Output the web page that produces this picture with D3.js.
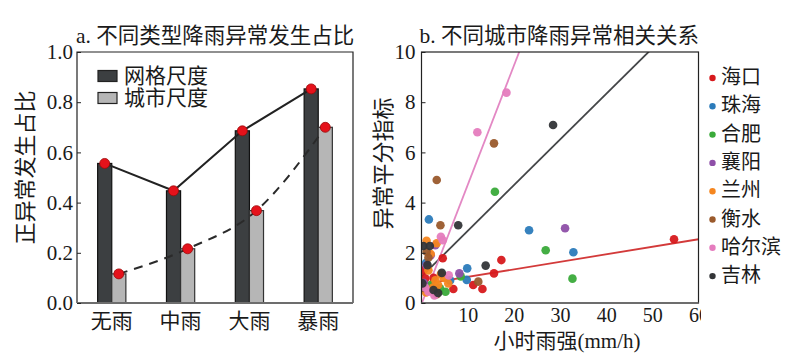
<!DOCTYPE html>
<html><head><meta charset="utf-8">
<script src="https://cdn.jsdelivr.net/npm/d3@7"></script>
<style>
html,body{margin:0;padding:0;background:#fff;}
svg{display:block;}
text{font-family:"Liberation Serif","Noto Sans CJK SC",serif;fill:#1a1a1a;}
</style></head>
<body><svg id="c" width="799" height="359"></svg>
<script>
// ---------- Panel a data ----------
const catsA = ['无雨','中雨','大雨','暴雨'];
const seriesA = ['网格尺度','城市尺度'];
const gridVals = [0.556, 0.447, 0.686, 0.853];
const cityVals = [0.116, 0.216, 0.368, 0.700];
const yTicksA = [0, 0.2, 0.4, 0.6, 0.8, 1.0];

// ---------- Panel b data ----------
const cities = ['海口','珠海','合肥','襄阳','兰州','衡水','哈尔滨','吉林'];
const cityColors = ['#d7191c','#2b7bba','#3aaa3a','#8e4fa8','#f5861f','#9a5a2c','#e57cbe','#333538'];
const haikou = [[54.7,2.54],[17.3,1.71],[15.7,1.18],[4.6,1.78],[11.2,0.72],[13.2,0.56],[6.9,0.56],[0.4,1.3],[0.8,0.98],[2.6,1.0]];
const zhuhai = [[23.3,2.9],[32.9,2.02],[1.6,3.33],[9.9,1.38],[9.8,0.92],[1.0,1.6],[6.2,0.9],[3.4,0.62]];
const hefei = [[15.9,4.43],[26.9,2.1],[32.7,0.97],[8.5,1.06],[4.0,0.59],[5.2,0.45],[2.0,0.72]];
const xiangyang = [[31.1,2.98],[8.2,1.18],[1.1,1.5],[3.0,2.3],[0.5,0.8],[2.0,1.9]];
const lanzhou = [[1.1,2.48],[3.3,2.38],[1.5,1.3],[4.2,1.15],[3.0,0.9],[5.8,0.78],[2.5,0.62],[1.0,0.42],[4.8,1.0],[2.0,1.95],[3.6,0.72]];
const hengshui = [[3.3,4.9],[15.7,6.36],[4.1,3.1],[1.1,2.04],[12.3,0.85],[3.3,0.35],[1.5,1.8],[0.5,0.6]];
const haerbin = [[18.4,8.38],[12.1,6.8],[4.2,2.64],[4.6,2.5],[5.9,1.1],[1.5,0.45],[2.8,0.3],[0.8,0.62]];
const jilin = [[28.5,7.09],[7.95,3.1],[13.9,1.49],[0.4,2.27],[1.8,2.27],[1.3,1.51],[4.4,1.2],[2.6,0.52],[0.2,0.78],[3.6,0.4]];
const cityPoints = [haikou, zhuhai, hefei, xiangyang, lanzhou, hengshui, haerbin, jilin];
const fitCities = ['海口','吉林','哈尔滨'];
const fitColors = ['#d33a3a','#444648','#e388c4'];
const fitIntercepts = [0.74, 1.05, -0.05];
const fitSlopes = [0.0300, 0.182, 0.475];
const xTicksB = [10, 20, 30, 40, 50, 60];
const yTicksB = [0, 2, 4, 6, 8, 10];

const svg = d3.select('#c');

// ================= Panel a =================
const A = {l:77, r:353, t:52, b:303};
const yA = d3.scaleLinear([0,1],[A.b, A.t]);
const x0 = d3.scaleBand(catsA,[A.l, A.r]).paddingInner(0.59).paddingOuter(0.3);
const x1 = d3.scaleBand(seriesA,[0, x0.bandwidth()]);
const gA = svg.append('g');

const barFill = ['#3c3f41','#b6b6b6'];
const barStroke = ['#111','#333'];
const valsA = [gridVals, cityVals];
seriesA.forEach((s,si)=>{
  gA.append('g').selectAll('rect').data(catsA).join('rect')
    .attr('x', c=>x0(c)+x1(s))
    .attr('y', (c,i)=>yA(valsA[si][i]))
    .attr('width', x1.bandwidth())
    .attr('height', (c,i)=>A.b - yA(valsA[si][i]))
    .attr('fill', barFill[si]).attr('stroke', barStroke[si]).attr('stroke-width',1.2);
});
const cx = (c,s)=>x0(c)+x1(s)+x1.bandwidth()/2;
gA.append('path')
  .attr('d', d3.line().x((v,i)=>cx(catsA[i],seriesA[0])).y(v=>yA(v))(gridVals))
  .attr('fill','none').attr('stroke','#222').attr('stroke-width',2);
gA.append('path')
  .attr('d', d3.line().curve(d3.curveMonotoneX).x((v,i)=>cx(catsA[i],seriesA[1])).y(v=>yA(v))(cityVals))
  .attr('fill','none').attr('stroke','#2a2a2a').attr('stroke-width',2).attr('stroke-dasharray','9,7');
seriesA.forEach((s,si)=>{
  gA.append('g').selectAll('circle').data(valsA[si]).join('circle')
    .attr('cx',(v,i)=>cx(catsA[i],s)).attr('cy',v=>yA(v)).attr('r',5)
    .attr('fill','#e5121b').attr('stroke','#9a0a0a').attr('stroke-width',0.8);
});
gA.append('path').attr('d',`M${A.l},${A.b}V${A.t}H${A.r}V${A.b}`).attr('fill','none').attr('stroke','#222').attr('stroke-width',1.2);
gA.append('line').attr('x1',A.l).attr('x2',A.r).attr('y1',A.b).attr('y2',A.b).attr('stroke','#6d6d6d').attr('stroke-width',2);
const axA = gA.append('g').attr('transform',`translate(${A.l},0)`)
  .call(d3.axisLeft(yA).tickValues(yTicksA).tickFormat(d3.format('.1f')).tickSizeInner(-4).tickSizeOuter(0).tickPadding(4));
axA.select('.domain').remove();
axA.selectAll('line').attr('stroke','#222');
axA.selectAll('text').attr('font-size',21).attr('fill','#1a1a1a');
const axAx = gA.append('g').attr('transform',`translate(0,${A.b})`)
  .call(d3.axisBottom(x0).tickSize(0).tickPadding(10));
axAx.select('.domain').remove();
axAx.selectAll('text').attr('font-size',21).attr('fill','#1a1a1a');
gA.append('text').attr('x',A.l-1).attr('y',36).attr('dominant-baseline','central')
  .attr('font-size',21.5).text('a. 不同类型降雨异常发生占比');
gA.append('text').attr('transform',`translate(25,${(A.t+A.b)/2-10}) rotate(-90)`)
  .attr('text-anchor','middle').attr('dominant-baseline','central').attr('font-size',22).text('正异常发生占比');
seriesA.forEach((s,i)=>{
  const y = 76 + i*22;
  gA.append('rect').attr('x',98).attr('y',y-5.5).attr('width',19).attr('height',11)
    .attr('fill',barFill[i]).attr('stroke','#222').attr('stroke-width',1.2);
  gA.append('text').attr('x',124).attr('y',y).attr('dominant-baseline','central').attr('font-size',21).text(s);
});

// ================= Panel b =================
const B = {l:421.5, r:698.5, t:52, b:303};
const xB = d3.scaleLinear([0,60],[B.l, B.r]);
const yB = d3.scaleLinear([0,10],[B.b, B.t]);
const gB = svg.append('g');
svg.append('defs').append('clipPath').attr('id','clipB').append('rect')
  .attr('x',B.l).attr('y',B.t).attr('width',B.r-B.l).attr('height',B.b-B.t);
svg.select('defs').append('clipPath').attr('id','clipLab').append('rect')
  .attr('x',0).attr('y',0).attr('width',701).attr('height',359);

const plot = gB.append('g').attr('clip-path','url(#clipB)');
fitCities.forEach((c,i)=>{
  const xs = [0, 60];
  plot.append('path')
    .attr('d', d3.line().x(d=>xB(d)).y(d=>yB(fitIntercepts[i]+fitSlopes[i]*d))(xs))
    .attr('stroke', fitColors[i]).attr('stroke-width',1.8).attr('fill','none');
});
cities.forEach((c,ci)=>{
  plot.append('g').selectAll('circle').data(cityPoints[ci]).join('circle')
    .attr('cx',d=>xB(d[0])).attr('cy',d=>yB(d[1])).attr('r',4.3)
    .attr('fill',cityColors[ci]).attr('fill-opacity',0.95);
});
gB.append('rect').attr('x',B.l).attr('y',B.t).attr('width',B.r-B.l).attr('height',B.b-B.t)
  .attr('fill','none').attr('stroke','#222').attr('stroke-width',1.2);
gB.append('line').attr('x1',B.l).attr('x2',B.r).attr('y1',B.b).attr('y2',B.b).attr('stroke','#6d6d6d').attr('stroke-width',2);
const axBy = gB.append('g').attr('transform',`translate(${B.l},0)`)
  .call(d3.axisLeft(yB).tickValues(yTicksB).tickFormat(d3.format('d')).tickSizeInner(-4).tickSizeOuter(0).tickPadding(6));
axBy.select('.domain').remove();
axBy.selectAll('line').attr('stroke','#222');
axBy.selectAll('text').attr('font-size',21).attr('fill','#1a1a1a');
const axBx = gB.append('g').attr('transform',`translate(0,${B.b})`).attr('clip-path','url(#clipLab)')
  .call(d3.axisBottom(xB).tickValues(xTicksB).tickFormat(d3.format('d')).tickSizeInner(-4).tickSizeOuter(0).tickPadding(5));
axBx.select('.domain').remove();
axBx.selectAll('line').attr('stroke','#222');
axBx.selectAll('text').attr('font-size',20).attr('fill','#1a1a1a');
gB.append('text').attr('x',B.l-2).attr('y',36).attr('dominant-baseline','central')
  .attr('font-size',21.5).text('b. 不同城市降雨异常相关关系');
gB.append('text').attr('transform',`translate(383,${(B.t+B.b)/2-14}) rotate(-90)`)
  .attr('text-anchor','middle').attr('dominant-baseline','central').attr('font-size',22).text('异常平分指标');
gB.append('text').attr('x',567).attr('y',341).attr('text-anchor','middle').attr('dominant-baseline','central')
  .attr('font-size',21).text('小时雨强(mm/h)');
cities.forEach((c,i)=>{
  const y = 77 + i*28.3;
  gB.append('circle').attr('cx',712.5).attr('cy',y+1).attr('r',3.2).attr('fill',cityColors[i]);
  gB.append('text').attr('x',721).attr('y',y).attr('dominant-baseline','central').attr('font-size',20).text(c);
});
</script></body></html>
